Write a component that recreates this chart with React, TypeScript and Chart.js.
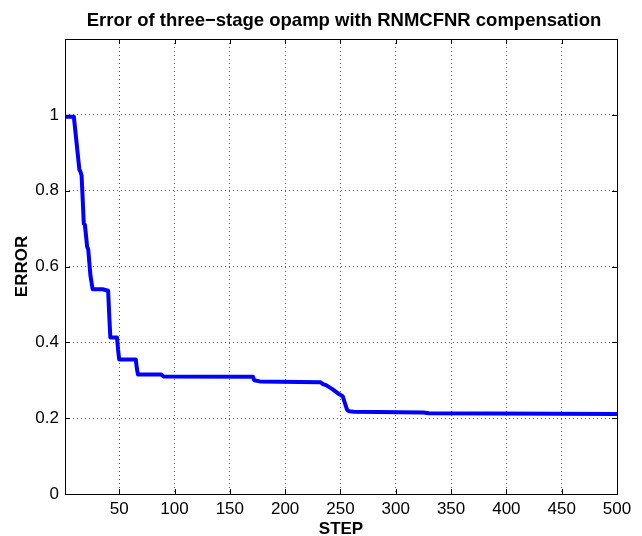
import React, { useEffect, useRef } from "react";
import { Chart, registerables } from "chart.js";

Chart.register(...registerables);

const TITLE = "Error of three\u2212stage opamp with RNMCFNR compensation";
const X_LABEL = "STEP";
const Y_LABEL = "ERROR";

const steps = [1, 9, 14, 15, 16, 18, 19, 21, 22, 24, 26, 35, 40, 41, 42, 48, 49, 50, 65, 66, 67, 88, 90, 171, 172, 177, 232, 234, 237, 243, 249, 252, 254, 256, 258, 262, 325, 330, 500];
const errors = [0.995, 0.995, 0.855, 0.85, 0.84, 0.713, 0.71, 0.652, 0.645, 0.576, 0.54, 0.54, 0.536, 0.47, 0.413, 0.413, 0.38, 0.355, 0.355, 0.33, 0.315, 0.315, 0.31, 0.309, 0.3, 0.297, 0.295, 0.29, 0.287, 0.276, 0.263, 0.258, 0.24, 0.222, 0.218, 0.217, 0.215, 0.213, 0.211];

const xTicks = [50, 100, 150, 200, 250, 300, 350, 400, 450, 500];
const yTicks = [0, 0.2, 0.4, 0.6, 0.8, 1];
const yTickLabels = ["0", "0.2", "0.4", "0.6", "0.8", "1"];

const FONT = "'Liberation Sans', Arial, Helvetica, sans-serif";

const framePlugin = {
  id: "matlabFrame",
  afterDatasetsDraw(chart: any) {
    const { ctx, chartArea } = chart;
    const { left, right, top, bottom } = chartArea;
    const xs = chart.scales.x;
    const ys = chart.scales.y;
    ctx.save();
    ctx.strokeStyle = "#000";
    ctx.lineWidth = 1;
    ctx.setLineDash([]);
    ctx.beginPath();
    const L = 5;
    xTicks.forEach((v) => {
      const px = Math.round(xs.getPixelForValue(v)) + 0.5;
      ctx.moveTo(px, bottom);
      ctx.lineTo(px, bottom - L);
      ctx.moveTo(px, top);
      ctx.lineTo(px, top + L);
    });
    yTicks.forEach((v) => {
      const py = Math.round(ys.getPixelForValue(v)) + 0.5;
      ctx.moveTo(left, py);
      ctx.lineTo(left + L, py);
      ctx.moveTo(right, py);
      ctx.lineTo(right - L, py);
    });
    ctx.stroke();
    ctx.strokeRect(Math.round(left) + 0.5, Math.round(top) + 0.5, Math.round(right - left), Math.round(bottom - top));
    ctx.fillStyle = "#000";
    ctx.textAlign = "center";
    ctx.textBaseline = "alphabetic";
    ctx.font = `bold 18.5px ${FONT}`;
    ctx.fillText(TITLE, (left + right) / 2 + 3, 26);
    ctx.font = `bold 17px ${FONT}`;
    ctx.fillText(X_LABEL, (left + right) / 2, 534);
    ctx.translate(27, (top + bottom) / 2);
    ctx.rotate(-Math.PI / 2);
    ctx.fillText(Y_LABEL, 0, 0);
    ctx.restore();
  },
};

export default function App() {
  const ref = useRef<HTMLCanvasElement | null>(null);
  useEffect(() => {
    if (!ref.current) return;
    const chart = new Chart(ref.current, {
      type: "line",
      data: {
        datasets: [
          {
            data: steps.map((s, i) => ({ x: s, y: errors[i] })),
            borderColor: "#0000ff",
            borderWidth: 4,
            pointRadius: 0,
            fill: false,
            tension: 0,
            borderJoinStyle: "round",
            borderCapStyle: "round",
          },
        ],
      },
      options: {
        animation: false,
        responsive: false,
        maintainAspectRatio: false,
        layout: { padding: { left: 0, right: 25, top: 39, bottom: 0 } },
        plugins: { legend: { display: false }, tooltip: { enabled: false }, title: { display: false } },
        scales: {
          x: {
            type: "linear",
            min: 1,
            max: 500,
            afterFit: (s: any) => {
              s.height = 42;
            },
            afterBuildTicks: (s: any) => {
              s.ticks = xTicks.map((v) => ({ value: v }));
            },
            grid: {
              drawTicks: false,
              color: (c: any) => (c.tick && c.tick.value === 500 ? "rgba(0,0,0,0)" : "rgba(40,40,40,0.75)"),
              lineWidth: 1,
            },
            border: { display: false, dash: [1, 3] },
            ticks: {
              padding: 5,
              color: "#000",
              font: { family: FONT, size: 17 },
              maxRotation: 0,
              autoSkip: false,
            },
          },
          y: {
            type: "linear",
            min: 0,
            max: 1.2,
            afterFit: (s: any) => {
              s.width = 65;
            },
            afterBuildTicks: (s: any) => {
              s.ticks = yTicks.map((v) => ({ value: v }));
            },
            grid: {
              drawTicks: false,
              color: (c: any) => (c.tick && c.tick.value === 0 ? "rgba(0,0,0,0)" : "rgba(40,40,40,0.75)"),
              lineWidth: 1,
            },
            border: { display: false, dash: [1, 3] },
            ticks: {
              padding: 6,
              color: "#000",
              font: { family: FONT, size: 17 },
              autoSkip: false,
              callback: (v: any) => {
                const i = yTicks.indexOf(Number(v));
                return i >= 0 ? yTickLabels[i] : "";
              },
            },
          },
        },
      },
      plugins: [framePlugin],
    });
    return () => chart.destroy();
  }, []);
  return (
    <div style={{ position: "fixed", left: 0, top: 0, width: 642, height: 536, background: "#fff" }}>
      <canvas ref={ref} width={642} height={536} style={{ width: 642, height: 536 }} />
    </div>
  );
}
